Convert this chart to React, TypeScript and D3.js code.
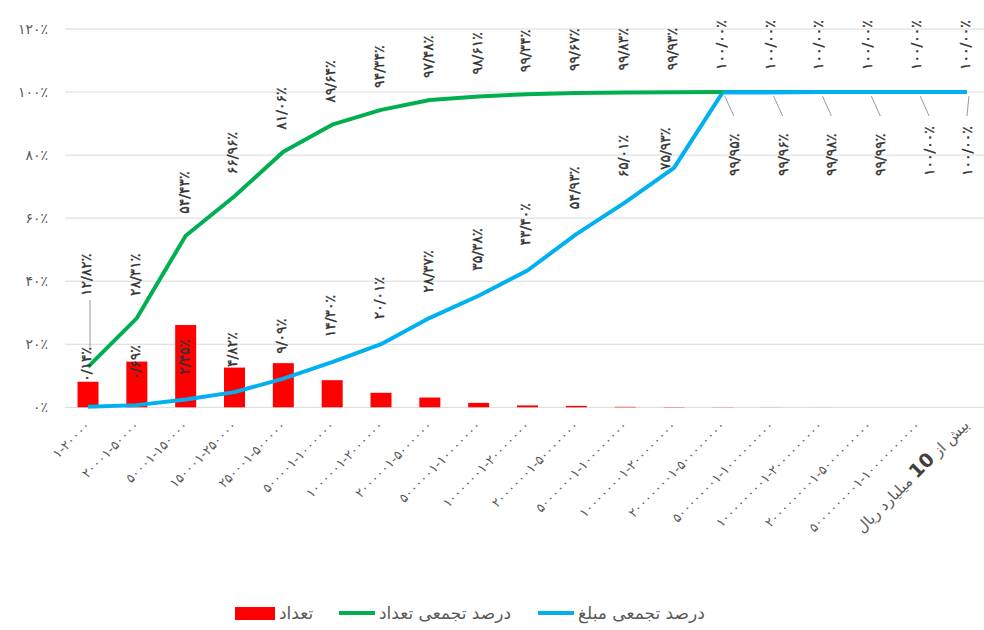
import React, { useRef, useEffect } from 'react';
import * as d3 from 'd3';

const categories = [
  '1-20000', '20001-50000', '50001-150000', '150001-250000', '250001-500000',
  '500001-1000000', '1000001-2000000', '2000001-5000000', '5000001-10000000',
  '10000001-20000000', '20000001-50000000', '50000001-100000000',
  '100000001-200000000', '200000001-500000000', '500000001-1000000000',
  '1000000001-2000000000', '2000000001-5000000000', '5000000001-10000000000',
  'more',
];

// تعداد (share of count, %)
const countShare = [8.1, 14.5, 26.1, 12.6, 14.0, 8.6, 4.6, 3.1, 1.4, 0.6, 0.45, 0.15, 0.08, 0.05, 0.02, 0.01, 0, 0, 0];
// درصد تجمعی تعداد
const cumCount = [12.82, 28.31, 54.43, 66.96, 81.06, 89.64, 94.34, 97.48, 98.61, 99.34, 99.67, 99.83, 99.93, 100, 100, 100, 100, 100, 100];
// درصد تجمعی مبلغ
const cumAmount = [0.14, 0.69, 2.45, 4.82, 9.09, 14.30, 20.01, 28.37, 35.38, 43.40, 54.93, 65.01, 75.93, 99.95, 99.96, 99.98, 99.99, 100, 100];

const yTicks = [0, 20, 40, 60, 80, 100, 120];

const legendItems = [
  { label: 'تعداد', color: '#FF0000', kind: 'bar' },
  { label: 'درصد تجمعی تعداد', color: '#00B050', kind: 'line' },
  { label: 'درصد تجمعی مبلغ', color: '#00B0F0', kind: 'line' },
];

const fa = (s: string) => s.replace(/[0-9]/g, d => '۰۱۲۳۴۵۶۷۸۹'[+d]).replace(/\./g, '/');
const pct = (v: number) => fa(v.toFixed(2)) + '٪';

const W = 984, H = 630;
const FONT = '"DejaVu Sans", sans-serif';

const App: React.FC = () => {
  const svgRef = useRef<SVGSVGElement>(null);

  useEffect(() => {
    document.body.style.margin = '0';
    if (!svgRef.current) return;
    const svg = d3.select(svgRef.current);
    svg.selectAll('*').remove();

    const x = d3.scaleBand<number>()
      .domain(d3.range(categories.length))
      .range([63.6, 991.4])
      .paddingInner(0.57)
      .paddingOuter(0.285);
    const cx = (i: number) => (x(i) || 0) + x.bandwidth() / 2;
    const y = d3.scaleLinear().domain([0, 120]).range([407.3, 29]);

    // grid
    svg.append('g').selectAll('line').data(yTicks).enter().append('line')
      .attr('x1', 65).attr('x2', W)
      .attr('y1', d => y(d)).attr('y2', d => y(d))
      .attr('stroke', '#D9D9D9').attr('stroke-width', 1);

    // y labels
    svg.append('g').selectAll('text').data(yTicks).enter().append('text')
      .attr('x', 48).attr('y', d => y(d)).attr('dy', '0.35em')
      .attr('text-anchor', 'end')
      .attr('font-family', FONT).attr('font-size', 14).attr('letter-spacing', 1).attr('fill', '#595959')
      .text(d => fa(String(d)) + '٪');

    // bars
    svg.append('g').selectAll('rect').data(countShare).enter().append('rect')
      .attr('x', (_, i) => x(i) || 0)
      .attr('width', x.bandwidth())
      .attr('y', d => y(d))
      .attr('height', d => y(0) - y(d))
      .attr('fill', '#FF0000');

    const line = d3.line<number>().x((_, i) => cx(i)).y(d => y(d));

    svg.append('path').datum(cumAmount)
      .attr('d', line).attr('fill', 'none')
      .attr('stroke', '#00B0F0').attr('stroke-width', 4).attr('stroke-linejoin', 'round');

    svg.append('path').datum(cumCount)
      .attr('d', line).attr('fill', 'none')
      .attr('stroke', '#00B050').attr('stroke-width', 4).attr('stroke-linejoin', 'round');

    // redraw blue on top where it coincides at 100%
    svg.append('path').datum(cumAmount.slice(13))
      .attr('d', d3.line<number>().x((_, i) => cx(i + 13)).y(d => y(d)))
      .attr('fill', 'none').attr('stroke', '#00B0F0').attr('stroke-width', 4);

    const labels = svg.append('g')
      .attr('font-family', FONT).attr('font-size', 14).attr('letter-spacing', 0.8)
      .attr('fill', '#333333').attr('stroke', '#333333').attr('stroke-width', 0.35);

    const vLabel = (lx: number, ly: number, t: string) =>
      labels.append('text')
        .attr('transform', `translate(${lx},${ly}) rotate(-90)`)
        .attr('dy', '0.35em')
        .attr('text-anchor', 'start')
        .text(t);

    const leader = (x1: number, y1: number, x2: number, y2: number) =>
      svg.append('line')
        .attr('x1', x1).attr('y1', y1).attr('x2', x2).attr('y2', y2)
        .attr('stroke', '#7f7f7f').attr('stroke-width', 0.8);

    // green labels
    cumCount.forEach((v, i) => {
      if (i === 0) {
        leader(cx(0) + 2, 300, cx(0) + 2, 347);
        vLabel(cx(0) - 2, 296, pct(v));
      } else {
        vLabel(cx(i) - 2, y(v) - 22, pct(v));
      }
    });

    // blue labels
    cumAmount.forEach((v, i) => {
      if (i < 13) {
        const dx = i === 12 ? -7 : 0;
        const ly = i === 12 ? y(v) + 2 : y(v) - 25;
        vLabel(cx(i) - 2 + dx, ly, pct(v));
      } else {
        const dx = i === cumAmount.length - 1 ? 0 : 11;
        leader(cx(i) + 2, y(v) + 4, cx(i) + dx, 116);
        vLabel(cx(i) + dx, 176, pct(v));
      }
    });

    // x labels
    const xl = svg.append('g')
      .attr('font-family', FONT).attr('font-size', 13).attr('letter-spacing', 2).attr('fill', '#595959');
    categories.forEach((c, i) => {
      const t = xl.append('text')
        .attr('transform', `translate(${cx(i) + 3},${426}) rotate(-45)`)
        .attr('text-anchor', 'end');
      if (c === 'more') {
        t.attr('letter-spacing', 0).attr('font-size', 15);
        t.append('tspan').text('بیش از ');
        t.append('tspan').attr('font-weight', 'bold').attr('font-size', 19).attr('fill', '#404040').text('10');
        t.append('tspan').text(' میلیارد ریال');
      } else {
        t.text(fa(c));
      }
    });

    // legend
    const lg = svg.append('g').attr('font-family', FONT).attr('font-size', 17).attr('fill', '#595959');
    const legendX = [235, 339, 538];
    legendItems.forEach((it, i) => {
      const lx = legendX[i];
      if (it.kind === 'bar') {
        lg.append('rect').attr('x', lx).attr('y', 607).attr('width', 40).attr('height', 13).attr('fill', it.color);
      } else {
        lg.append('line').attr('x1', lx).attr('x2', lx + 36).attr('y1', 613).attr('y2', 613)
          .attr('stroke', it.color).attr('stroke-width', 4);
      }
      lg.append('text').attr('x', lx + (it.kind === 'bar' ? 44 : 40)).attr('y', 613).attr('dy', '0.35em')
        .attr('text-anchor', 'start').text(it.label);
    });
  }, []);

  return <svg ref={svgRef} width={W} height={H} style={{ display: 'block', background: '#fff' }} />;
};

export default App;
